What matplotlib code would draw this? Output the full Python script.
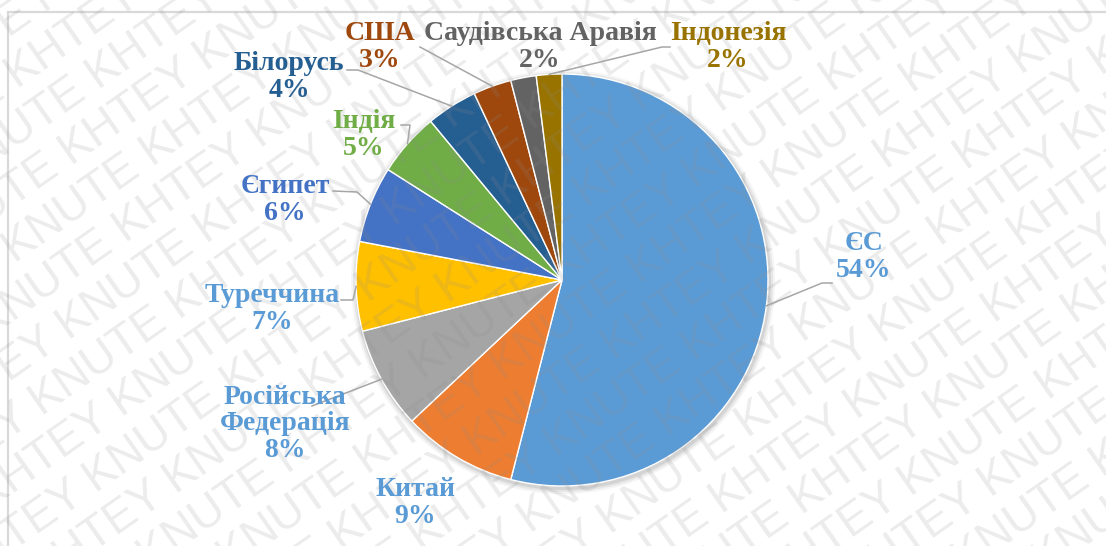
import numpy as np
import matplotlib
matplotlib.use("Agg")
import matplotlib.pyplot as plt
from matplotlib.patches import Rectangle, Circle

# data
countries = ["ЄС", "Китай", "Російська\nФедерація", "Туреччина", "Єгипет",
             "Індія", "Білорусь", "США", "Саудівська Аравія", "Індонезія"]
shares = [54, 9, 8, 7, 6, 5, 4, 3, 2, 2]
slice_colors = ["#5B9BD5", "#ED7D31", "#A5A5A5", "#FFC000", "#4472C4",
                "#70AD47", "#255E91", "#9E480E", "#636363", "#997300"]
label_colors = ["#5B9BD5", "#5B9BD5", "#5B9BD5", "#5B9BD5", "#4472C4",
                "#70AD47", "#255E91", "#9E480E", "#636363", "#997300"]

W, H = 1106, 546
# label placement in image pixels (x, y of text centre) and leader elbows
label_pos = [(864, 257), (415, 503), (285, 424), (272, 309), (285, 200),
             (364, 135), (289, 77), (380, 47), (540, 47), (728, 47)]
leader = [[(822, 283), (832, 283)],
          None,
          [(312, 406)],
          [(353, 300), (341, 300)],
          [(357, 192), (333, 191)],
          [(410, 125), (401, 125)],
          [(358, 70), (347, 70)],
          [(420, 47)],
          None,
          [(662, 47), (670, 47)]]

cx, cy, r = 562, H - 280, 206

fig = plt.figure(figsize=(W / 100, H / 100), dpi=100)
fig.patch.set_facecolor("white")
ax = fig.add_axes([0, 0, 1, 1])

# chart frame
ax.add_patch(Rectangle((8, -20), W + 20, H - 12 + 20, fill=False,
                       edgecolor="#d9d9d9", linewidth=1.6, zorder=0))

# soft shadow under the pie
for k, a in zip([6, 4, 2], [0.04, 0.06, 0.08]):
    ax.add_patch(Circle((cx + 1, cy - 2), r + k, color="#000000",
                        alpha=a, lw=0, zorder=0.5))

ax.pie(shares, colors=slice_colors, startangle=90, counterclock=False,
       center=(cx, cy), radius=r,
       wedgeprops=dict(edgecolor="white", linewidth=1))

ax.set_xlim(0, W)
ax.set_ylim(0, H)
ax.set_aspect("equal")
ax.axis("off")

# watermark
wm = fig.add_axes([0, 0, 1, 1], zorder=10)
wm.set_xlim(0, W)
wm.set_ylim(0, H)
wm.axis("off")
wm.patch.set_alpha(0)
ang = 35
u = np.array([np.cos(np.deg2rad(ang)), np.sin(np.deg2rad(ang))])
n = np.array([-u[1], u[0]])
line = "KHTEY KNUTE " * 12
for k in range(-15, 16):
    p = np.array([W / 2, H / 2]) + k * 47 * n + (k % 2) * 65 * u
    wm.text(p[0], p[1], line, rotation=ang, rotation_mode="anchor",
            ha="center", va="center", fontsize=33,
            family=["Liberation Sans", "DejaVu Sans"],
            color="#8c8c8c", alpha=0.17, clip_on=True)

# data labels on top
lab = fig.add_axes([0, 0, 1, 1], zorder=20)
lab.set_xlim(0, W)
lab.set_ylim(0, H)
lab.axis("off")
lab.patch.set_alpha(0)
serif = ["Liberation Serif", "DejaVu Serif"]
cum = 0
for i, (name, v) in enumerate(zip(countries, shares)):
    mid = np.deg2rad(90 - 360 * (cum + v / 2) / 100)
    cum += v
    if leader[i] is not None:
        xs = [cx + r * np.cos(mid)] + [p[0] for p in leader[i]]
        ys = [cy + r * np.sin(mid)] + [H - p[1] for p in leader[i]]
        lab.plot(xs, ys, color="#a6a6a6", lw=1.1, zorder=3)
    tx, ty = label_pos[i]
    lab.text(tx, H - ty, f"{name}\n{v}%", ha="center", va="center",
             fontsize=20, fontweight="bold", family=serif,
             color=label_colors[i], linespacing=1.08, zorder=5)

fig.savefig("out.png", dpi=100)
